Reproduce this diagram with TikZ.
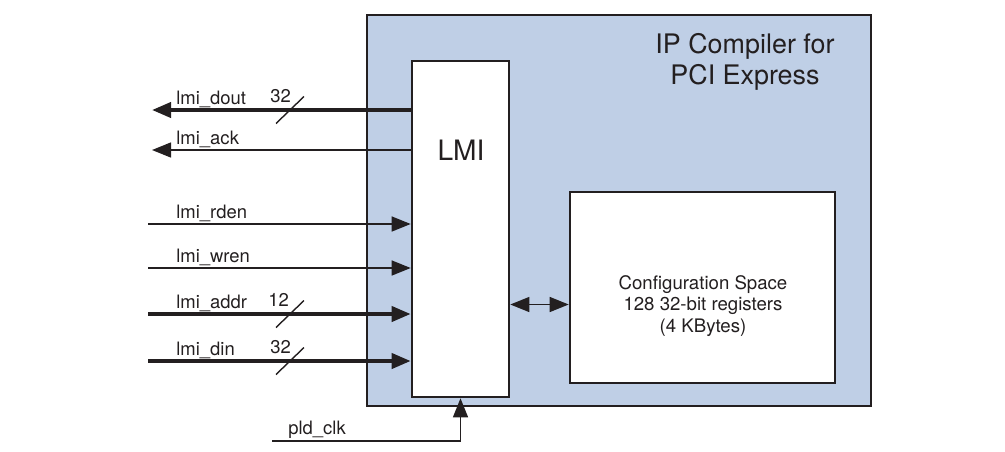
\documentclass[tikz,border=0pt]{standalone}
\usepackage{fontspec}
\setmainfont{TeX Gyre Heros}
\usepackage{tikz}
\usetikzlibrary{arrows.meta}
\usepackage{xcolor}
\definecolor{azulip}{RGB}{191,207,230}
\definecolor{cinza}{RGB}{35,31,32}

\begin{document}
\begin{tikzpicture}[
        seta/.style={-{Triangle[length=0.38cm,width=0.3cm]}},
        setadupla/.style={{Triangle[length=0.38cm,width=0.3cm]}-{Triangle[length=0.38cm,width=0.3cm]}},
        barramento/.style={draw=cinza, line width=2.2pt},
        sinal/.style={draw=cinza, line width=0.8pt},
        rotulo/.style={anchor=base west, inner sep=0pt, text=cinza, font=\fontsize{10.5}{12}\selectfont},
        caixa/.style={draw=cinza, fill=white, line width=1.5pt, inner sep=0pt}
    ]
        \useasboundingbox (0,0) rectangle (20.1,9.02);

        % Bloco do IP
        \node[draw=cinza, fill=azulip, line width=0.6pt, inner sep=0pt,
              minimum width=10.08cm, minimum height=7.82cm] (ip) at (12.38,4.81) {};
        \node[align=center, text=cinza, font=\fontsize{15.3}{17.6}\selectfont] (titulo) at (14.9,7.78) {IP Compiler for\\PCI Express};

        % Blocos internos
        \node[caixa, minimum width=1.94cm, minimum height=6.72cm] (lmi) at (9.21,4.44) {};
        \node[text=cinza, font=\fontsize{16}{18}\selectfont] (lmitxt) at (9.22,6.02) {LMI};
        \node[caixa, minimum width=5.3cm, minimum height=3.82cm] (cfg) at (14.05,3.27) {};
        \node[align=center, text=cinza, font=\fontsize{10.6}{12.4}\selectfont] (cfgtxt) at (14.06,2.9)
            {Configuration Space\\128 32-bit registers\\(4 KBytes)};

        % Saidas
        \coordinate (dout) at (3.04,6.82);
        \coordinate (ack) at (3.04,6.02);
        \draw[barramento, seta] (lmi.west |- dout) -- (dout);
        \draw[sinal, seta] (lmi.west |- ack) -- (ack);
        \node[rotulo] (tdout) at (3.52,6.94) {lmi\_dout};
        \node[rotulo] (tack) at (3.52,6.14) {lmi\_ack};

        % Entradas
        \coordinate (rden) at (2.96,4.54);
        \coordinate (wren) at (2.96,3.66);
        \coordinate (addr) at (2.96,2.74);
        \coordinate (din) at (2.96,1.8);
        \draw[sinal, seta] (rden) -- (lmi.west |- rden);
        \draw[sinal, seta] (wren) -- (lmi.west |- wren);
        \draw[barramento, seta] (addr) -- (lmi.west |- addr);
        \draw[barramento, seta] (din) -- (lmi.west |- din);
        \node[rotulo] (trden) at (3.52,4.66) {lmi\_rden};
        \node[rotulo] (twren) at (3.52,3.78) {lmi\_wren};
        \node[rotulo] (taddr) at (3.52,2.86) {lmi\_addr};
        \node[rotulo] (tdin) at (3.52,1.92) {lmi\_din};

        % Largura dos barramentos
        \coordinate (bdout) at (5.8,6.82);
        \coordinate (baddr) at (5.8,2.74);
        \coordinate (bdin) at (5.8,1.8);
        \draw[sinal] ([shift={(-0.28,-0.27)}]bdout) -- ([shift={(0.28,0.27)}]bdout);
        \draw[sinal] ([shift={(-0.28,-0.27)}]baddr) -- ([shift={(0.28,0.27)}]baddr);
        \draw[sinal] ([shift={(-0.28,-0.27)}]bdin) -- ([shift={(0.28,0.27)}]bdin);
        \node[rotulo] (ldout) at (5.4,6.98) {32};
        \node[rotulo] (laddr) at (5.36,2.89) {12};
        \node[rotulo] (ldin) at (5.4,1.96) {32};

        % Clock
        \coordinate (clk) at (5.44,0.2);
        \draw[sinal, seta] (clk) -| (lmi.south);
        \node[rotulo] (tclk) at (5.76,0.34) {pld\_clk};

        % LMI <-> Configuration Space
        \coordinate (bidir) at (10.8,2.93);
        \draw[sinal, setadupla] (lmi.east |- bidir) -- (cfg.west |- bidir);
    \end{tikzpicture}
\end{document}
